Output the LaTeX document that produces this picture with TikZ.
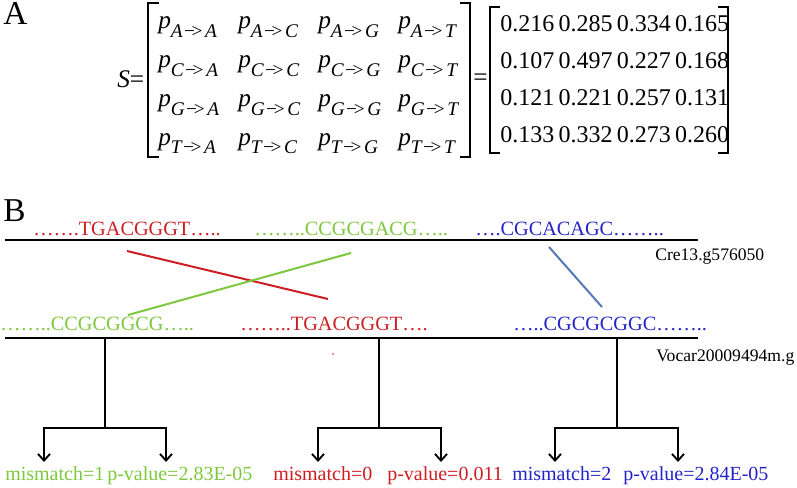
\documentclass[tikz,border=0pt]{standalone}
\usepackage{fontspec}
\setmainfont{Liberation Serif}
\usetikzlibrary{arrows.meta, positioning}

\definecolor{seqred}{RGB}{205,30,35}
\definecolor{seqgreen}{RGB}{125,200,60}
\definecolor{seqblue}{RGB}{35,35,200}
\definecolor{linkblue}{RGB}{85,120,185}

% p_{X->Y} entry of the substitution matrix
\newcommand{\ptr}[2]{{\fontsize{19}{22}\selectfont\itshape p}\raisebox{-6.5pt}{\fontsize{14.5}{16}\selectfont\itshape #1\kern1pt{\upshape −}\kern-2.5pt{\upshape >}\kern2pt#2}}

\begin{document}
\begin{tikzpicture}[
    x=0.75pt, y=-0.75pt,
    panel/.style={font=\fontsize{25}{28}\selectfont, anchor=base west, inner sep=0pt},
    entry/.style={anchor=base west, inner sep=0pt},
    num/.style={font=\fontsize{18}{22}\selectfont, anchor=base west, inner sep=0pt},
    seq/.style={font=\fontsize{15.2}{18}\selectfont, anchor=base west, inner sep=0pt},
    gene/.style={font=\fontsize{13.2}{16}\selectfont, anchor=base west, inner sep=0pt},
    res/.style={font=\fontsize{15}{18}\selectfont, anchor=base west, inner sep=0pt},
    brk/.style={line width=1.1pt},
    chrom/.style={line width=2.2pt},
    link/.style={line width=1.5pt},
    tree/.style={line width=1.5pt},
    arr/.style={tree, -{Straight Barb[length=5pt, width=9pt, line width=1.4pt]}}
]
    \useasboundingbox (0,0) rectangle (797,488);

    % ---- panel A ----
    \node[panel] (labA) at (3,25) {A};
    \node[entry, font=\fontsize{19}{22}\selectfont] (smat) at (117,88) {\textit{S}=};
    \draw[brk] (159,3) -| (148,157) -- (159,157);
    \draw[brk] (460,3) -| (470,157) -- (460,157);
    \foreach \r [count=\i from 0] in {A,C,G,T}
        \foreach \c [count=\j from 0] in {A,C,G,T}
            \node[entry] (p\r\c) at (158+80*\j, 29+38.7*\i) {\ptr{\r}{\c}};
    \node[entry, font=\fontsize{19}{22}\selectfont] (eq) at (473,86) {=};
    \draw[brk] (500,7) -| (490,153) -- (500,153);
    \draw[brk] (718,7) -| (728,153) -- (718,153);
    \foreach \row [count=\i from 0] in {{0.216,0.285,0.334,0.165},{0.107,0.497,0.227,0.168},{0.121,0.221,0.257,0.131},{0.133,0.332,0.273,0.260}}
        \foreach \v [count=\j from 0] in \row
            \node[num] (n\i\j) at (500+58.3*\j, 32+37*\i) {\v};

    % ---- panel B ----
    \node[panel] (labB) at (3,222) {B};
    \coordinate (creL) at (5,240);
    \coordinate (creR) at (698,240);
    \coordinate (vocL) at (5,338);
    \coordinate (vocR) at (698,338);
    \draw[chrom] (creL) -- (creR);
    \draw[chrom] (vocL) -- (vocR);
    \node[gene] (cre) at (655,261) {Cre13.g576050};
    \node[gene] (voc) at (656,362) {Vocar20009494m.g};

    \node[seq, text=seqred] (cr) at (33,236) {…….TGACGGGT…..};
    \node[seq, text=seqgreen] (cg) at (254,236) {……..CCGCGACG…..};
    \node[seq, text=seqblue] (cb) at (475,236) {….CGCACAGC……..};
    \node[seq, text=seqgreen] (vg) at (0,331) {……..CCGCGGCG…..};
    \node[seq, text=seqred] (vr) at (240,331) {……..TGACGGGT….};
    \node[seq, text=seqblue] (vb) at (513,331) {…..CGCGCGGC……..};
    \fill[seqred] (333,354) circle (0.9);

    \coordinate (r1) at (127,251);
    \coordinate (r2) at (328,299);
    \coordinate (g1) at (351,253);
    \coordinate (g2) at (128,315);
    \coordinate (b1) at (549,247);
    \coordinate (b2) at (602,307);
    \draw[link, seqred] (r1) -- (r2);
    \draw[link, seqgreen] (g1) -- (g2);
    \draw[link, linkblue] (b1) -- (b2);

    % motif hits on Vocar gene
    \foreach \k/\x/\a/\b in {1/105/44/166, 2/379/318/441, 3/617/555/678} {
        \coordinate (st\k) at (\x,338);
        \coordinate (e\k a) at (\a,462);
        \coordinate (e\k b) at (\b,462);
        \draw[tree] (st\k) -- ++(0,90) coordinate (k\k);
        \draw[arr] (k\k) -| (e\k a);
        \draw[arr] (k\k) -| (e\k b);
    }

    \node[res, text=seqgreen] (mm1) at (5,480) {mismatch=1};
    \node[res, text=seqgreen] (pv1) at (107,480) {p-value=2.83E-05};
    \node[res, text=seqred] (mm2) at (273,480) {mismatch=0};
    \node[res, text=seqred] (pv2) at (387,480) {p-value=0.011};
    \node[res, text=seqblue] (mm3) at (512,480) {mismatch=2};
    \node[res, text=seqblue] (pv3) at (623,480) {p-value=2.84E-05};
\end{tikzpicture}
\end{document}
